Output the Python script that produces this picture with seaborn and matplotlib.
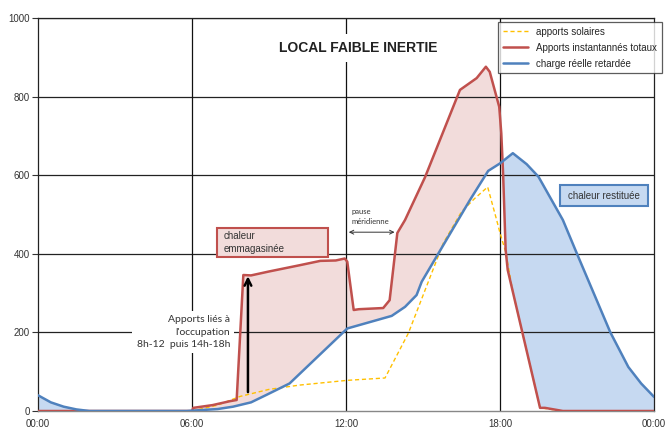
import numpy as np
import matplotlib
matplotlib.use("Agg")
import matplotlib.pyplot as plt
import seaborn as sns
from matplotlib.patches import Rectangle

# heures (0-24) et puissances
heures_solaire = [6, 7, 7.87, 9, 10.2, 12.05, 13.52, 14.43, 15.79, 16.5, 17.0, 17.52, 17.87, 18.0, 18.22, 18.5, 19.56, 20.45, 24]
apports_solaires = [0, 15, 37, 55, 66, 78, 84, 198, 427, 507, 540, 570, 486, 453, 405, 303, 8, 0, 0]

heures_totaux = [0, 6, 6.05, 6.8, 7.48, 7.74, 8.0, 8.3, 9, 10.2, 11, 11.6, 11.95, 12.05, 12.15, 12.3, 12.5,
                 13.45, 13.7, 13.85, 14.0, 14.3, 15.08, 16.44, 17.09, 17.45, 17.6, 17.97, 18.05, 18.12, 18.22,
                 18.3, 19.56, 19.75, 20.45, 24]
apports_totaux = [0, 0, 8, 15, 25, 28, 346, 345, 355, 371, 382, 383, 388, 380, 330, 257, 259,
                  262, 282, 367, 453, 486, 595, 817, 847, 876, 863, 774, 707, 605, 410,
                  359, 8, 8, 0, 0]

heures_charge = [0, 0.5, 1, 1.5, 2, 5.8, 7.0, 7.6, 8.3, 8.9, 9.8, 12.05, 13.78, 14.3, 14.75, 14.95, 16.83,
                 17.54, 18.0, 18.5, 19.04, 19.5, 20.45, 21.0, 22.3, 23.0, 23.5, 24]
charge_reelle = [40, 22, 11, 4, 0, 0, 5, 11, 22, 41, 70, 210, 242, 265, 295, 329, 537,
                 611, 630, 656, 628, 596, 486, 400, 200, 112, 70, 36]

ticks_x = [0, 6, 12, 18, 24]
labels_x = ["00:00", "06:00", "12:00", "18:00", "00:00"]
ticks_y = [0, 200, 400, 600, 800, 1000]

rouge = "#C0504D"
bleu = "#4F81BD"
jaune = "#FFC000"
rose = "#F2DCDB"
bleu_clair = "#C6D9F1"

sns.set_style("white")
plt.rcParams['font.family'] = ['Liberation Sans', 'DejaVu Sans']

fig = plt.figure(figsize=(6.66, 4.29), dpi=100)
ax = fig.add_axes([38 / 666, 1 - 411 / 429, 616 / 666, 393 / 429])

# remplissage entre apports totaux et charge reelle
t = np.linspace(0, 24, 4801)
r = np.interp(t, heures_totaux, apports_totaux)
b = np.interp(t, heures_charge, charge_reelle)
ax.fill_between(t, b, r, where=r >= b, interpolate=True, color=rose, lw=0, zorder=0.3)
ax.fill_between(t, r, b, where=b > r, interpolate=True, color=bleu_clair, lw=0, zorder=0.3)

# grille
for yv in ticks_y[1:]:
    ax.axhline(yv, color="#222222", lw=0.9, zorder=0.5)
for xv in ticks_x[1:4]:
    ax.axvline(xv, color="#111111", lw=0.9, zorder=0.5)

sns.lineplot(x=heures_solaire, y=apports_solaires, ax=ax, color=jaune, lw=1.0,
             linestyle=(0, (3, 2)), label="apports solaires", zorder=2)
sns.lineplot(x=heures_totaux, y=apports_totaux, ax=ax, color=rouge, lw=1.8,
             label="Apports instantannés totaux", zorder=3)
sns.lineplot(x=heures_charge, y=charge_reelle, ax=ax, color=bleu, lw=1.8,
             label="charge réelle retardée", zorder=4)

ax.set_xlim(0, 24)
ax.set_ylim(0, 1000)
ax.set_xticks(ticks_x)
ax.set_xticklabels(labels_x)
ax.set_yticks(ticks_y)
ax.tick_params(axis="x", length=0, labelsize=7, colors="#333333", pad=6)
ax.tick_params(axis="y", length=4, width=0.8, labelsize=7, colors="#333333", pad=2, left=True)
ax.set_xlabel("")
ax.set_ylabel("")
for s in ["left", "right", "top"]:
    ax.spines[s].set_color("#222222")
    ax.spines[s].set_linewidth(0.9)
ax.spines["bottom"].set_color("#888888")
ax.spines["bottom"].set_linewidth(1.0)

ax.text(12.47, 924, "LOCAL FAIBLE INERTIE", fontsize=10, fontweight="bold",
        ha="center", va="center", color="#222222", zorder=6,
        bbox=dict(facecolor="white", edgecolor="none", pad=5))

leg = ax.legend(loc="upper right", bbox_to_anchor=(662 / 666, 1 - 22 / 429),
                bbox_transform=fig.transFigure, fontsize=7, frameon=True, fancybox=False,
                borderaxespad=0, handlelength=2.6, labelspacing=0.6, borderpad=0.5)
leg.get_frame().set_edgecolor("#333333")
leg.get_frame().set_linewidth(0.9)
leg.set_zorder(10)

# encadre chaleur emmagasinee
ax.add_patch(Rectangle((6.97, 392), 4.33, 74, facecolor=rose, edgecolor=rouge, lw=1.5, zorder=6))
ax.text(7.25, 429, "chaleur\nemmagasinée", fontsize=7, ha="left", va="center",
        color="#333333", linespacing=1.4, zorder=7)

# encadre chaleur restituee
ax.add_patch(Rectangle((20.34, 521), 3.43, 54, facecolor=bleu_clair, edgecolor=bleu, lw=1.5, zorder=6))
ax.text(22.05, 548, "chaleur restituée", fontsize=7, ha="center", va="center",
        color="#333333", zorder=7)

# apports occupation
ax.text(7.48, 201, "Apports liés à\nl'occupation\n8h-12  puis 14h-18h", fontsize=7.5,
        family=["Lato", "DejaVu Sans"], ha="right", va="center", color="#333333", linespacing=1.45,
        bbox=dict(facecolor="white", edgecolor="none", pad=3), zorder=6)
ax.annotate("", xy=(8.18, 350), xytext=(8.18, 41),
            arrowprops=dict(arrowstyle="->", color="black", lw=1.8, mutation_scale=12), zorder=7)

# pause meridienne
ax.text(12.23, 494, "pause\nméridienne", fontsize=5.5, family=["Lato", "DejaVu Sans"],
        ha="left", va="center", color="#333333", linespacing=1.5, zorder=6)
ax.annotate("", xy=(12.0, 455), xytext=(14.0, 455),
            arrowprops=dict(arrowstyle="<->", color="#333333", lw=0.7, mutation_scale=7), zorder=6)

fig.savefig("out.png", dpi=100)
